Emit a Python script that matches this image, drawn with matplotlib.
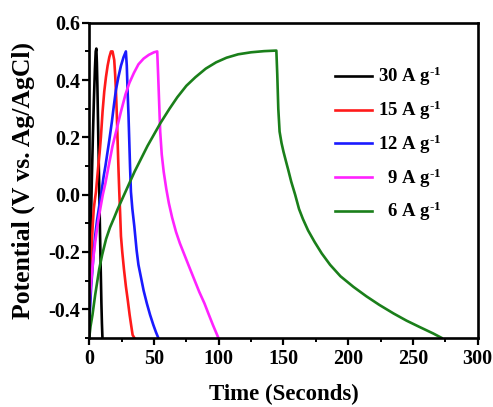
import matplotlib
matplotlib.use("Agg")
import matplotlib.pyplot as plt
from matplotlib.ticker import MultipleLocator

plt.rcParams['font.family'] = ['Liberation Serif', 'DejaVu Serif']
plt.rcParams['font.weight'] = 'bold'
plt.rcParams['mathtext.fontset'] = 'custom'
plt.rcParams['mathtext.rm'] = 'Liberation Serif:bold'
plt.rcParams['mathtext.it'] = 'Liberation Serif:bold'
plt.rcParams['mathtext.bf'] = 'Liberation Serif:bold'
plt.rcParams['mathtext.default'] = 'rm'
plt.rcParams['axes.unicode_minus'] = False

labels = ["30 A g$^{\\text{-1}}$", "15 A g$^{\\text{-1}}$", "12 A g$^{\\text{-1}}$",
          "  9 A g$^{\\text{-1}}$", "  6 A g$^{\\text{-1}}$"]
colors = ["#000000", "#ff1a1a", "#1a1aff", "#ff22ff", "#1a7f1a"]

t_30 = [0, 0.5, 1.2, 2.0, 2.8, 3.6, 4.4, 5.0, 5.5, 5.9, 6.3, 7.0, 7.8, 8.6, 9.4, 9.8, 10.2]
v_30 = [-0.45, -0.3, -0.12, 0.05, 0.2, 0.33, 0.44, 0.5, 0.51, 0.46, 0.38, 0.2, 0.0, -0.2, -0.38, -0.45, -0.5]

t_15 = [0, 0.5, 1.0, 1.6, 2.2, 2.8, 3.5, 4.3, 5.2, 6.1, 7.0, 8.0, 9.0, 10.3, 11.6, 12.9, 14.2, 15.5, 16.8, 18.0,
        19.3, 20.0, 20.6, 21.3, 21.9, 22.5, 23.2, 23.9, 24.5, 25.5, 26.8, 28.3, 29.8, 31.2, 32.5, 33.5, 34.8]
v_15 = [-0.45, -0.38, -0.3, -0.22, -0.15, -0.1, -0.05, -0.02, 0.01, 0.055, 0.1, 0.145, 0.2, 0.29, 0.36, 0.41, 0.45, 0.48, 0.5, 0.5,
        0.47, 0.42, 0.365, 0.28, 0.19, 0.1, 0.01, -0.07, -0.145, -0.2, -0.26, -0.32, -0.37, -0.42, -0.46, -0.49, -0.5]

t_12 = [0, 0.8, 1.5, 2.5, 3.5, 4.7, 6.0, 7.7, 9.5, 11.0, 12.5, 14.0, 15.5, 17.5, 19.0, 20.6, 22.5, 24.5, 26.5, 28.3,
        29.0, 29.6, 30.3, 30.9, 31.5, 32.2, 33.3, 34.8, 36.6, 38.0, 40.0, 42.0, 44.5, 47.0, 49.5, 51.5, 53.3]
v_12 = [-0.45, -0.38, -0.32, -0.26, -0.2, -0.14, -0.09, -0.04, 0.01, 0.06, 0.1, 0.145, 0.19, 0.255, 0.31, 0.365, 0.41, 0.45, 0.48, 0.5,
        0.45, 0.365, 0.28, 0.19, 0.1, 0.01, -0.05, -0.11, -0.195, -0.245, -0.29, -0.335, -0.38, -0.42, -0.455, -0.48, -0.5]

t_9 = [0, 1.0, 2.0, 3.2, 4.5, 5.7, 7.0, 8.7, 10.5, 12.5, 15.0, 18.0, 21.0, 24.5, 28.0, 31.0, 34.5, 38.0, 42.0, 46.0, 50.0, 52.5,
       53.2, 54.0, 54.8, 56.0, 57.5, 59.5, 61.5, 64.0, 67.0, 70.0, 73.5, 77.0, 81.0, 85.0, 89.0, 92.0, 95.5, 99.7]
v_9 = [-0.38, -0.33, -0.28, -0.22, -0.17, -0.13, -0.09, -0.045, 0.0, 0.04, 0.1, 0.17, 0.225, 0.29, 0.35, 0.39, 0.425, 0.455, 0.475, 0.488, 0.497, 0.5,
       0.42, 0.32, 0.22, 0.14, 0.08, 0.02, -0.03, -0.08, -0.13, -0.17, -0.21, -0.25, -0.295, -0.34, -0.38, -0.415, -0.455, -0.5]

t_6 = [0, 1, 2.5, 4.6, 7.7, 10, 13, 16, 19.3, 22, 25, 28, 31, 35, 40, 45, 50, 55, 62, 68, 75, 82, 90, 98, 106, 115, 125, 135, 144.5,
       145.2, 146, 147, 148.5, 150, 152, 153.7, 156, 159, 162, 165, 169, 174, 179.5, 186, 194, 204, 214, 224, 235, 245, 255, 265.7, 272]
v_6 = [-0.5, -0.46, -0.42, -0.35, -0.26, -0.21, -0.155, -0.115, -0.08, -0.05, -0.02, 0.01, 0.04, 0.08, 0.125, 0.17, 0.21, 0.25, 0.3,
       0.34, 0.38, 0.41, 0.44, 0.462, 0.478, 0.49, 0.497, 0.501, 0.503,
       0.42, 0.3, 0.22, 0.18, 0.15, 0.115, 0.086, 0.045, 0.0, -0.05, -0.085, -0.125, -0.165, -0.205, -0.245, -0.285, -0.322,
       -0.355, -0.385, -0.415, -0.44, -0.462, -0.485, -0.5]

series_t = [t_30, t_15, t_12, t_9, t_6]
series_v = [v_30, v_15, v_12, v_9, v_6]

fig = plt.figure(figsize=(4.93, 4.07), dpi=100)
ax = fig.add_axes([0.181, 0.170, 0.788, 0.774])

for t, v, c, lab in zip(series_t, series_v, colors, labels):
    ax.plot(t, v, color=c, lw=1.9, label=lab, solid_joinstyle='round')

ax.set_xlim(0, 300)
ax.set_ylim(-0.5, 0.6)
ax.xaxis.set_major_locator(MultipleLocator(50))
ax.xaxis.set_minor_locator(MultipleLocator(25))
ax.yaxis.set_minor_locator(MultipleLocator(0.1))
ax.set_yticks([-0.4, -0.2, 0.0, 0.2, 0.4, 0.6])
ax.set_yticklabels(["-0.4", "-0.2", "0.0", "0.2", "0.4", "0.6"])

for s in ax.spines.values():
    s.set_linewidth(1.9)
ax.tick_params(which='major', direction='out', length=5, width=1.6, labelsize=14.5, pad=3)
ax.tick_params(which='minor', direction='out', length=3, width=1.4)
ax.tick_params(axis='y', which='major', pad=1.5)
for lbl in ax.get_xticklabels() + ax.get_yticklabels():
    lbl.set_fontweight('bold')

ax.set_xlabel("Time (Seconds)", fontsize=16.5, fontweight='bold')
ax.set_ylabel("Potential (V vs. Ag/AgCl)", fontsize=18.5, fontweight='bold')
ax.xaxis.set_label_coords(0.5, -0.145)
ax.yaxis.set_label_coords(-0.14, 0.5)

leg = ax.legend(loc='upper left', bbox_to_anchor=(0.632, 0.866), frameon=False,
                fontsize=13.5, handlelength=2.0, handletextpad=0.3, labelspacing=0.55,
                borderpad=0, borderaxespad=0)
for txt in leg.get_texts():
    txt.set_fontweight('bold')

fig.savefig("out.png", dpi=100)
